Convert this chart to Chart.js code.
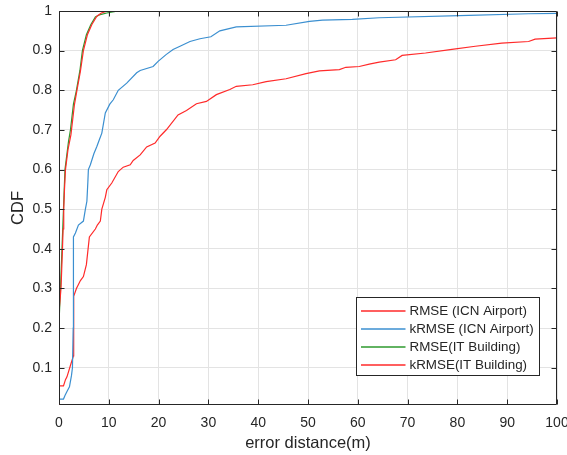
<!DOCTYPE html>
<html><head><meta charset="utf-8">
<script src="https://cdn.jsdelivr.net/npm/chart.js@4.4.1/dist/chart.umd.min.js"></script>
<style>html,body{margin:0;padding:0;background:#fff}canvas{display:block}</style>
</head><body><canvas id="c" width="567" height="455"></canvas>
<script>
const seriesLabels = ['RMSE (ICN Airport)', 'kRMSE (ICN Airport)', 'RMSE(IT Building)', 'kRMSE(IT Building)'];
const seriesColors = ['#ff2a2a', '#3b8fd0', '#2e9a2e', '#ff2a2a'];

const icnRmse = [[0,0.006],[0,0.054],[0.9,0.054],[1.3,0.07],[1.6,0.077],[2.4,0.11],[2.9,0.13],[2.95,0.28],[3.5,0.3],[4.3,0.32],[4.9,0.33],[5.5,0.36],[6.1,0.43],[7.3,0.45],[7.7,0.46],[8.3,0.47],[8.6,0.5],[9.3,0.53],[9.6,0.549],[10.6,0.566],[11.9,0.595],[12.9,0.606],[14.3,0.612],[14.9,0.623],[16.3,0.637],[17.6,0.657],[19.3,0.667],[20.3,0.684],[21.6,0.701],[23.9,0.738],[25.6,0.749],[27.6,0.766],[29.6,0.772],[31.6,0.789],[34.3,0.802],[35.6,0.81],[38.9,0.814],[41.6,0.822],[45.6,0.829],[49.6,0.842],[52.3,0.849],[56.3,0.852],[57.6,0.858],[60.3,0.86],[62.3,0.866],[64.3,0.871],[67.6,0.877],[68.9,0.888],[73.6,0.894],[78.9,0.903],[83.6,0.911],[88.9,0.919],[94.3,0.923],[95.6,0.929],[100,0.932]];

const icnKrmse = [[0,0.006],[0,0.021],[0.9,0.021],[1.2,0.03],[1.6,0.04],[2.1,0.052],[2.5,0.08],[2.7,0.1],[2.85,0.2],[2.9,0.43],[3.3,0.44],[3.9,0.46],[4.9,0.47],[5.3,0.5],[5.6,0.52],[5.8,0.57],[5.9,0.6],[6.3,0.612],[7.0,0.64],[7.6,0.658],[8.1,0.675],[8.6,0.692],[9.3,0.743],[10.2,0.765],[10.9,0.776],[11.9,0.8],[13.6,0.818],[15.6,0.844],[16.3,0.85],[18.9,0.86],[19.9,0.873],[21.5,0.89],[22.9,0.903],[24.3,0.911],[26.3,0.923],[28.3,0.93],[30.5,0.935],[32.3,0.95],[35.6,0.96],[45.6,0.964],[50.3,0.974],[52.9,0.977],[58.9,0.979],[64.3,0.983],[82.3,0.989],[94.3,0.993],[100,0.994]];

const itRmse = [[0,0.006],[0,0.17],[0.05,0.22],[0.3,0.3],[0.6,0.4],[0.9,0.5],[1.2,0.6],[1.9,0.67],[2.3,0.7],[2.9,0.765],[3.5,0.8],[4.2,0.85],[4.7,0.9],[5.5,0.94],[6.4,0.966],[7.3,0.985],[8.3,0.991],[9.6,0.995],[10.8,0.998],[11.9,1.0]];

const itKrmse = [[0,0.006],[0,0.15],[0.05,0.2],[0.15,0.25],[0.4,0.3],[0.55,0.35],[0.7,0.4],[0.82,0.45],[0.95,0.5],[1.1,0.55],[1.3,0.6],[1.8,0.65],[2.4,0.688],[3.1,0.764],[3.6,0.8],[4.3,0.848],[4.9,0.9],[5.7,0.94],[6.6,0.966],[7.6,0.987],[8.5,0.995],[9.3,0.998],[9.8,1.0]];

const xTicks = [0,10,20,30,40,50,60,70,80,90,100];
const xTickLabels = ['0','10','20','30','40','50','60','70','80','90','100'];
const yTicks = [0.1,0.2,0.3,0.4,0.5,0.6,0.7,0.8,0.9,1];
const yTickLabels = ['0.1','0.2','0.3','0.4','0.5','0.6','0.7','0.8','0.9','1'];

const FONT = '"Liberation Sans", Arial, Helvetica, sans-serif';
const TXT = '#262626';

const toPts = arr => arr.map(p => ({x: p[0], y: p[1]}));
const seriesData = [icnRmse, icnKrmse, itRmse, itKrmse];
const drawOrder = [3, 2, 1, 0];

const boxPlugin = {
  id: 'boxPlugin',
  afterDatasetsDraw(chart) {
    const {ctx, chartArea: a, scales: {x, y}} = chart;
    ctx.save();
    const L = Math.round(a.left) + 0.5, R = Math.round(a.right) - 0.5;
    const T = Math.round(a.top) + 0.5, B = Math.round(a.bottom) - 0.5;
    ctx.strokeStyle = TXT; ctx.lineWidth = 1;
    ctx.beginPath();
    ctx.moveTo(L, T); ctx.lineTo(R, T); ctx.lineTo(R, B); ctx.lineTo(L, B); ctx.closePath();
    const tl = 5;
    xTicks.forEach(v => {
      const px = Math.round(x.getPixelForValue(v)) + 0.5;
      ctx.moveTo(px, B); ctx.lineTo(px, B - tl);
      ctx.moveTo(px, T); ctx.lineTo(px, T + tl);
    });
    yTicks.forEach(v => {
      const py = Math.round(y.getPixelForValue(v)) + 0.5;
      ctx.moveTo(L, py); ctx.lineTo(L + tl, py);
      ctx.moveTo(R, py); ctx.lineTo(R - tl, py);
    });
    ctx.stroke();

    // legend
    const lx = Math.round(a.right - 201) + 0.5, ly = Math.round(a.bottom - 108) + 0.5;
    const lw = 183, lh = 78;
    ctx.fillStyle = '#fff';
    ctx.fillRect(lx, ly, lw, lh);
    ctx.strokeStyle = TXT;
    ctx.strokeRect(lx, ly, lw, lh);
    ctx.font = '13.4px ' + FONT;
    ctx.textBaseline = 'middle';
    ctx.textAlign = 'left';
    seriesLabels.forEach((lab, i) => {
      const ry = ly + 13.5 + i * 18;
      ctx.strokeStyle = seriesColors[i];
      ctx.lineWidth = 1.3;
      ctx.beginPath(); ctx.moveTo(lx + 4.5, ry); ctx.lineTo(lx + 49, ry); ctx.stroke();
      ctx.fillStyle = TXT;
      ctx.fillText(lab, lx + 53, ry);
    });
    ctx.restore();
  }
};

new Chart(document.getElementById('c'), {
  type: 'scatter',
  data: {
    datasets: seriesData.map((d, i) => ({
      label: seriesLabels[i],
      data: toPts(d),
      showLine: true,
      borderColor: seriesColors[i],
      backgroundColor: seriesColors[i],
      borderWidth: 1.2,
      pointRadius: 0,
      pointHoverRadius: 0,
      tension: 0,
      order: drawOrder[i]
    }))
  },
  options: {
    responsive: false,
    animation: false,
    devicePixelRatio: 1,
    layout: {padding: {top: 11, right: 10, left: 0, bottom: 0}},
    plugins: {legend: {display: false}, tooltip: {enabled: false}},
    scales: {
      x: {
        type: 'linear', min: 0, max: 100,
        afterBuildTicks: s => { s.ticks = xTicks.map(v => ({value: v})); },
        afterFit: s => { s.height = 50; s.paddingLeft = 0; s.paddingRight = 0; },
        ticks: {
          callback: (v) => xTickLabels[xTicks.indexOf(v)] ?? '',
          color: TXT, font: {family: FONT, size: 14}, padding: 10, maxRotation: 0, autoSkip: false
        },
        grid: {color: '#e3e3e3', drawTicks: false, lineWidth: 1},
        border: {display: false},
        title: {display: true, text: 'error distance(m)', color: TXT, font: {family: FONT, size: 16.5}, padding: {top: 0, bottom: 2}}
      },
      y: {
        type: 'linear', min: 0.006, max: 1,
        afterBuildTicks: s => { s.ticks = yTicks.map(v => ({value: v})); },
        afterFit: s => { s.width = 59; s.paddingTop = 0; s.paddingBottom = 0; },
        ticks: {
          callback: (v) => { const i = yTicks.findIndex(t => Math.abs(t - v) < 1e-9); return i >= 0 ? yTickLabels[i] : ''; },
          color: TXT, font: {family: FONT, size: 14}, padding: 7, autoSkip: false
        },
        grid: {color: '#e3e3e3', drawTicks: false, lineWidth: 1},
        border: {display: false},
        title: {display: true, text: 'CDF', color: TXT, font: {family: FONT, size: 16.5}, padding: {top: 9, bottom: 0}}
      }
    }
  },
  plugins: [boxPlugin]
});
</script>
</body></html>
